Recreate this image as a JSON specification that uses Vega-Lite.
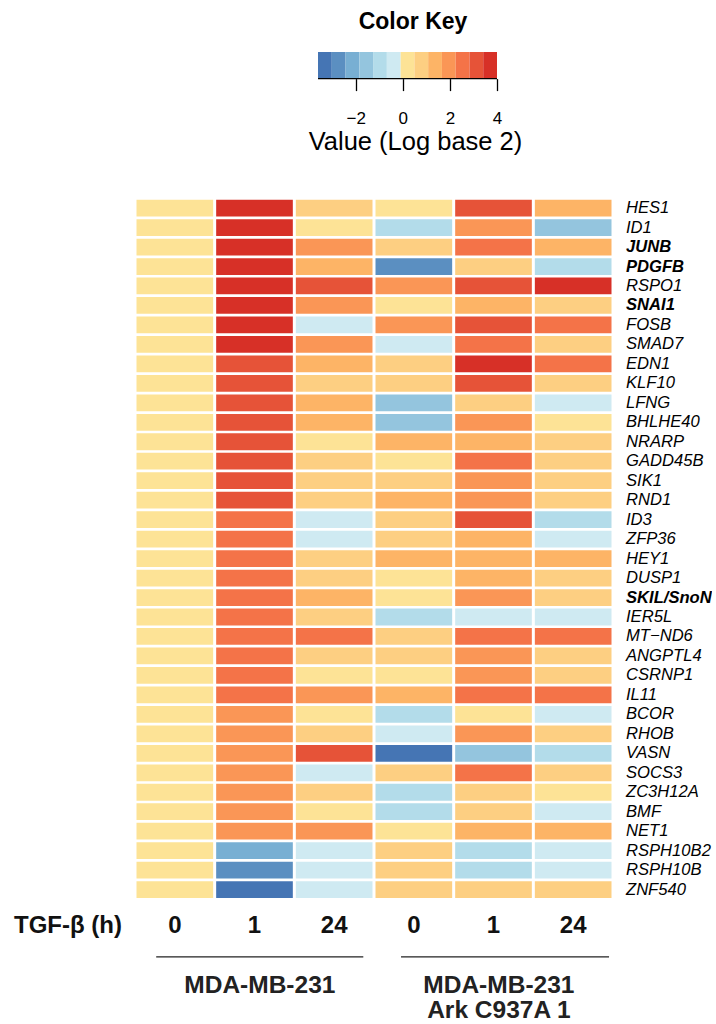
{
  "$schema": "https://vega.github.io/schema/vega-lite/v6.json",
  "background": "white",
  "padding": {"left": 13, "top": 11, "right": 0, "bottom": 0},
  "config": {"view": {"stroke": null}, "font": "Liberation Sans", "axis": {"labelColor": "black", "titleColor": "black", "grid": false}},
  "bounds": "flush",
  "spacing": 119.35,
  "datasets": {
    "key": [
      {"lo": -3.6, "hi": -3.015}, {"lo": -3.015, "hi": -2.431}, {"lo": -2.431, "hi": -1.846},
      {"lo": -1.846, "hi": -1.262}, {"lo": -1.262, "hi": -0.677}, {"lo": -0.677, "hi": -0.092},
      {"lo": -0.092, "hi": 0.492}, {"lo": 0.492, "hi": 1.077}, {"lo": 1.077, "hi": 1.662},
      {"lo": 1.662, "hi": 2.246}, {"lo": 2.246, "hi": 2.831}, {"lo": 2.831, "hi": 3.415},
      {"lo": 3.415, "hi": 4.0}
    ],
    "groups": [
      {"grp": "A", "first": "231_0", "mid": "231_1", "last": "231_24", "label": "MDA-MB-231"},
      {"grp": "B", "first": "Ark_0", "mid": "Ark_1", "last": "Ark_24", "label": "MDA-MB-231\nArk C937A 1"}
    ],
    "cells": [
      {"gene":"HES1","sample":"231_0","value":0},{"gene":"HES1","sample":"231_1","value":3.71},{"gene":"HES1","sample":"231_24","value":0.78},{"gene":"HES1","sample":"Ark_0","value":0.2},{"gene":"HES1","sample":"Ark_1","value":3.12},{"gene":"HES1","sample":"Ark_24","value":1.37},
      {"gene":"ID1","sample":"231_0","value":0},{"gene":"ID1","sample":"231_1","value":3.71},{"gene":"ID1","sample":"231_24","value":0.2},{"gene":"ID1","sample":"Ark_0","value":-0.97},{"gene":"ID1","sample":"Ark_1","value":1.95},{"gene":"ID1","sample":"Ark_24","value":-1.55},
      {"gene":"JUNB","sample":"231_0","value":0},{"gene":"JUNB","sample":"231_1","value":3.71},{"gene":"JUNB","sample":"231_24","value":1.95},{"gene":"JUNB","sample":"Ark_0","value":0.78},{"gene":"JUNB","sample":"Ark_1","value":2.54},{"gene":"JUNB","sample":"Ark_24","value":1.37},
      {"gene":"PDGFB","sample":"231_0","value":0},{"gene":"PDGFB","sample":"231_1","value":3.71},{"gene":"PDGFB","sample":"231_24","value":1.37},{"gene":"PDGFB","sample":"Ark_0","value":-2.72},{"gene":"PDGFB","sample":"Ark_1","value":0.78},{"gene":"PDGFB","sample":"Ark_24","value":-0.97},
      {"gene":"RSPO1","sample":"231_0","value":0},{"gene":"RSPO1","sample":"231_1","value":3.71},{"gene":"RSPO1","sample":"231_24","value":3.12},{"gene":"RSPO1","sample":"Ark_0","value":1.95},{"gene":"RSPO1","sample":"Ark_1","value":3.12},{"gene":"RSPO1","sample":"Ark_24","value":3.71},
      {"gene":"SNAI1","sample":"231_0","value":0},{"gene":"SNAI1","sample":"231_1","value":3.71},{"gene":"SNAI1","sample":"231_24","value":1.95},{"gene":"SNAI1","sample":"Ark_0","value":0.2},{"gene":"SNAI1","sample":"Ark_1","value":1.37},{"gene":"SNAI1","sample":"Ark_24","value":0.78},
      {"gene":"FOSB","sample":"231_0","value":0},{"gene":"FOSB","sample":"231_1","value":3.71},{"gene":"FOSB","sample":"231_24","value":-0.38},{"gene":"FOSB","sample":"Ark_0","value":1.95},{"gene":"FOSB","sample":"Ark_1","value":3.12},{"gene":"FOSB","sample":"Ark_24","value":2.54},
      {"gene":"SMAD7","sample":"231_0","value":0},{"gene":"SMAD7","sample":"231_1","value":3.71},{"gene":"SMAD7","sample":"231_24","value":1.95},{"gene":"SMAD7","sample":"Ark_0","value":-0.38},{"gene":"SMAD7","sample":"Ark_1","value":2.54},{"gene":"SMAD7","sample":"Ark_24","value":0.78},
      {"gene":"EDN1","sample":"231_0","value":0},{"gene":"EDN1","sample":"231_1","value":3.12},{"gene":"EDN1","sample":"231_24","value":1.37},{"gene":"EDN1","sample":"Ark_0","value":0.78},{"gene":"EDN1","sample":"Ark_1","value":3.71},{"gene":"EDN1","sample":"Ark_24","value":2.54},
      {"gene":"KLF10","sample":"231_0","value":0},{"gene":"KLF10","sample":"231_1","value":3.12},{"gene":"KLF10","sample":"231_24","value":0.78},{"gene":"KLF10","sample":"Ark_0","value":0.78},{"gene":"KLF10","sample":"Ark_1","value":3.12},{"gene":"KLF10","sample":"Ark_24","value":0.78},
      {"gene":"LFNG","sample":"231_0","value":0},{"gene":"LFNG","sample":"231_1","value":3.12},{"gene":"LFNG","sample":"231_24","value":1.37},{"gene":"LFNG","sample":"Ark_0","value":-1.55},{"gene":"LFNG","sample":"Ark_1","value":0.78},{"gene":"LFNG","sample":"Ark_24","value":-0.38},
      {"gene":"BHLHE40","sample":"231_0","value":0},{"gene":"BHLHE40","sample":"231_1","value":3.12},{"gene":"BHLHE40","sample":"231_24","value":1.37},{"gene":"BHLHE40","sample":"Ark_0","value":-1.55},{"gene":"BHLHE40","sample":"Ark_1","value":1.95},{"gene":"BHLHE40","sample":"Ark_24","value":0.2},
      {"gene":"NRARP","sample":"231_0","value":0},{"gene":"NRARP","sample":"231_1","value":3.12},{"gene":"NRARP","sample":"231_24","value":0.2},{"gene":"NRARP","sample":"Ark_0","value":1.37},{"gene":"NRARP","sample":"Ark_1","value":1.37},{"gene":"NRARP","sample":"Ark_24","value":0.78},
      {"gene":"GADD45B","sample":"231_0","value":0},{"gene":"GADD45B","sample":"231_1","value":3.12},{"gene":"GADD45B","sample":"231_24","value":0.78},{"gene":"GADD45B","sample":"Ark_0","value":0.2},{"gene":"GADD45B","sample":"Ark_1","value":2.54},{"gene":"GADD45B","sample":"Ark_24","value":0.78},
      {"gene":"SIK1","sample":"231_0","value":0},{"gene":"SIK1","sample":"231_1","value":3.12},{"gene":"SIK1","sample":"231_24","value":0.78},{"gene":"SIK1","sample":"Ark_0","value":0.78},{"gene":"SIK1","sample":"Ark_1","value":1.95},{"gene":"SIK1","sample":"Ark_24","value":0.78},
      {"gene":"RND1","sample":"231_0","value":0},{"gene":"RND1","sample":"231_1","value":3.12},{"gene":"RND1","sample":"231_24","value":0.78},{"gene":"RND1","sample":"Ark_0","value":1.37},{"gene":"RND1","sample":"Ark_1","value":1.95},{"gene":"RND1","sample":"Ark_24","value":0.78},
      {"gene":"ID3","sample":"231_0","value":0},{"gene":"ID3","sample":"231_1","value":2.54},{"gene":"ID3","sample":"231_24","value":-0.38},{"gene":"ID3","sample":"Ark_0","value":0.78},{"gene":"ID3","sample":"Ark_1","value":3.12},{"gene":"ID3","sample":"Ark_24","value":-0.97},
      {"gene":"ZFP36","sample":"231_0","value":0},{"gene":"ZFP36","sample":"231_1","value":2.54},{"gene":"ZFP36","sample":"231_24","value":-0.38},{"gene":"ZFP36","sample":"Ark_0","value":0.78},{"gene":"ZFP36","sample":"Ark_1","value":1.37},{"gene":"ZFP36","sample":"Ark_24","value":-0.38},
      {"gene":"HEY1","sample":"231_0","value":0},{"gene":"HEY1","sample":"231_1","value":2.54},{"gene":"HEY1","sample":"231_24","value":0.78},{"gene":"HEY1","sample":"Ark_0","value":1.37},{"gene":"HEY1","sample":"Ark_1","value":1.37},{"gene":"HEY1","sample":"Ark_24","value":1.37},
      {"gene":"DUSP1","sample":"231_0","value":0},{"gene":"DUSP1","sample":"231_1","value":2.54},{"gene":"DUSP1","sample":"231_24","value":0.78},{"gene":"DUSP1","sample":"Ark_0","value":0.2},{"gene":"DUSP1","sample":"Ark_1","value":1.37},{"gene":"DUSP1","sample":"Ark_24","value":0.78},
      {"gene":"SKIL/SnoN","sample":"231_0","value":0},{"gene":"SKIL/SnoN","sample":"231_1","value":2.54},{"gene":"SKIL/SnoN","sample":"231_24","value":1.37},{"gene":"SKIL/SnoN","sample":"Ark_0","value":0.2},{"gene":"SKIL/SnoN","sample":"Ark_1","value":1.95},{"gene":"SKIL/SnoN","sample":"Ark_24","value":0.78},
      {"gene":"IER5L","sample":"231_0","value":0},{"gene":"IER5L","sample":"231_1","value":2.54},{"gene":"IER5L","sample":"231_24","value":0.78},{"gene":"IER5L","sample":"Ark_0","value":-0.97},{"gene":"IER5L","sample":"Ark_1","value":-0.38},{"gene":"IER5L","sample":"Ark_24","value":-0.38},
      {"gene":"MT−ND6","sample":"231_0","value":0},{"gene":"MT−ND6","sample":"231_1","value":2.54},{"gene":"MT−ND6","sample":"231_24","value":2.54},{"gene":"MT−ND6","sample":"Ark_0","value":0.78},{"gene":"MT−ND6","sample":"Ark_1","value":2.54},{"gene":"MT−ND6","sample":"Ark_24","value":2.54},
      {"gene":"ANGPTL4","sample":"231_0","value":0},{"gene":"ANGPTL4","sample":"231_1","value":2.54},{"gene":"ANGPTL4","sample":"231_24","value":0.78},{"gene":"ANGPTL4","sample":"Ark_0","value":0.78},{"gene":"ANGPTL4","sample":"Ark_1","value":1.95},{"gene":"ANGPTL4","sample":"Ark_24","value":0.78},
      {"gene":"CSRNP1","sample":"231_0","value":0},{"gene":"CSRNP1","sample":"231_1","value":2.54},{"gene":"CSRNP1","sample":"231_24","value":0.2},{"gene":"CSRNP1","sample":"Ark_0","value":0.2},{"gene":"CSRNP1","sample":"Ark_1","value":1.95},{"gene":"CSRNP1","sample":"Ark_24","value":0.78},
      {"gene":"IL11","sample":"231_0","value":0},{"gene":"IL11","sample":"231_1","value":2.54},{"gene":"IL11","sample":"231_24","value":1.95},{"gene":"IL11","sample":"Ark_0","value":1.37},{"gene":"IL11","sample":"Ark_1","value":2.54},{"gene":"IL11","sample":"Ark_24","value":2.54},
      {"gene":"BCOR","sample":"231_0","value":0},{"gene":"BCOR","sample":"231_1","value":1.95},{"gene":"BCOR","sample":"231_24","value":0.2},{"gene":"BCOR","sample":"Ark_0","value":-0.97},{"gene":"BCOR","sample":"Ark_1","value":0.2},{"gene":"BCOR","sample":"Ark_24","value":-0.38},
      {"gene":"RHOB","sample":"231_0","value":0},{"gene":"RHOB","sample":"231_1","value":1.95},{"gene":"RHOB","sample":"231_24","value":0.78},{"gene":"RHOB","sample":"Ark_0","value":-0.38},{"gene":"RHOB","sample":"Ark_1","value":1.95},{"gene":"RHOB","sample":"Ark_24","value":0.78},
      {"gene":"VASN","sample":"231_0","value":0},{"gene":"VASN","sample":"231_1","value":1.95},{"gene":"VASN","sample":"231_24","value":3.12},{"gene":"VASN","sample":"Ark_0","value":-3.31},{"gene":"VASN","sample":"Ark_1","value":-1.55},{"gene":"VASN","sample":"Ark_24","value":-0.97},
      {"gene":"SOCS3","sample":"231_0","value":0},{"gene":"SOCS3","sample":"231_1","value":1.95},{"gene":"SOCS3","sample":"231_24","value":-0.38},{"gene":"SOCS3","sample":"Ark_0","value":0.78},{"gene":"SOCS3","sample":"Ark_1","value":2.54},{"gene":"SOCS3","sample":"Ark_24","value":0.78},
      {"gene":"ZC3H12A","sample":"231_0","value":0},{"gene":"ZC3H12A","sample":"231_1","value":1.95},{"gene":"ZC3H12A","sample":"231_24","value":0.78},{"gene":"ZC3H12A","sample":"Ark_0","value":-0.97},{"gene":"ZC3H12A","sample":"Ark_1","value":0.78},{"gene":"ZC3H12A","sample":"Ark_24","value":0.2},
      {"gene":"BMF","sample":"231_0","value":0},{"gene":"BMF","sample":"231_1","value":1.95},{"gene":"BMF","sample":"231_24","value":0.2},{"gene":"BMF","sample":"Ark_0","value":-0.97},{"gene":"BMF","sample":"Ark_1","value":0.78},{"gene":"BMF","sample":"Ark_24","value":-0.38},
      {"gene":"NET1","sample":"231_0","value":0},{"gene":"NET1","sample":"231_1","value":1.95},{"gene":"NET1","sample":"231_24","value":1.95},{"gene":"NET1","sample":"Ark_0","value":0.2},{"gene":"NET1","sample":"Ark_1","value":1.37},{"gene":"NET1","sample":"Ark_24","value":1.37},
      {"gene":"RSPH10B2","sample":"231_0","value":0},{"gene":"RSPH10B2","sample":"231_1","value":-2.14},{"gene":"RSPH10B2","sample":"231_24","value":-0.38},{"gene":"RSPH10B2","sample":"Ark_0","value":0.78},{"gene":"RSPH10B2","sample":"Ark_1","value":-0.97},{"gene":"RSPH10B2","sample":"Ark_24","value":-0.38},
      {"gene":"RSPH10B","sample":"231_0","value":0},{"gene":"RSPH10B","sample":"231_1","value":-2.72},{"gene":"RSPH10B","sample":"231_24","value":-0.38},{"gene":"RSPH10B","sample":"Ark_0","value":0.78},{"gene":"RSPH10B","sample":"Ark_1","value":-0.97},{"gene":"RSPH10B","sample":"Ark_24","value":-0.38},
      {"gene":"ZNF540","sample":"231_0","value":0},{"gene":"ZNF540","sample":"231_1","value":-3.31},{"gene":"ZNF540","sample":"231_24","value":-0.38},{"gene":"ZNF540","sample":"Ark_0","value":0.78},{"gene":"ZNF540","sample":"Ark_1","value":0.78},{"gene":"ZNF540","sample":"Ark_24","value":0.78}
    ]
  },
  "vconcat": [
    {
      "width": 478,
      "height": 26.6,
      "title": {"text": "Color Key", "fontSize": 23, "fontWeight": "bold", "anchor": "middle", "dx": 39, "baseline": "alphabetic", "offset": 0, "color": "black"},
      "data": {"name": "key"},
      "layer": [
        {
          "mark": {"type": "rect"},
          "encoding": {
            "x": {
              "field": "lo", "type": "quantitative", "title": "Value (Log base 2)",
              "scale": {"domain": [-11.372, 8.926], "nice": false, "zero": false},
              "axis": {"values": [-2, 0, 2, 4], "domain": false, "tickSize": 12, "tickWidth": 1.3, "tickColor": "black", "labelFontSize": 17, "labelPadding": 20, "labelFlush": false, "title": "Value (Log base 2)", "titleFontSize": 25.5, "titleFontWeight": "normal", "titleX": 280, "titleY": 71, "titleAlign": "center", "titleBaseline": "alphabetic"}
            },
            "x2": {"field": "hi"},
            "color": {
              "field": "lo", "type": "quantitative", "legend": null,
              "scale": {"type": "threshold", "domain": [-3.015, -2.431, -1.846, -1.262, -0.677, -0.092, 0.492, 1.077, 1.662, 2.246, 2.831, 3.415],
                "range": ["#4575b4", "#5b8fc1", "#78afd3", "#94c5de", "#b3dcea", "#cfeaf2", "#fde396", "#fdcf82", "#fdb466", "#fa9656", "#f47348", "#e65338", "#d73027"]}
            }
          }
        },
        {
          "mark": {"type": "rule", "color": "black", "strokeWidth": 1.3},
          "encoding": {
            "x": {"aggregate": "min", "field": "lo", "type": "quantitative", "title": "Value (Log base 2)"},
            "x2": {"aggregate": "max", "field": "hi"},
            "y": {"datum": 0, "type": "quantitative", "scale": {"domain": [0, 1]}, "axis": null}
          }
        }
      ]
    },
    {
      "width": 478,
      "height": 701,
      "layer": [
        {
          "data": {"name": "cells"},
          "mark": {"type": "rect"},
          "encoding": {
            "x": {
              "field": "sample", "type": "nominal", "title": "TGF-β (h)",
              "scale": {"domain": ["231_0", "231_1", "231_24", "Ark_0", "Ark_1", "Ark_24"], "paddingInner": 0.0377, "paddingOuter": 0.0188},
              "axis": {"orient": "bottom", "labelExpr": "split(datum.value, '_')[1]", "labelAngle": 0, "ticks": false, "tickSize": 0, "domain": false, "labelFontSize": 24, "labelFontWeight": "bold", "labelColor": "#111", "labelBaseline": "alphabetic", "labelPadding": 33, "title": "TGF-β (h)", "titleFontSize": 24, "titleFontWeight": "bold", "titleX": -67.5, "titleY": 33, "titleAlign": "center", "titleBaseline": "alphabetic", "titleColor": "#111"}
            },
            "y": {
              "field": "gene", "type": "nominal",
              "scale": {"domain": ["HES1","ID1","JUNB","PDGFB","RSPO1","SNAI1","FOSB","SMAD7","EDN1","KLF10","LFNG","BHLHE40","NRARP","GADD45B","SIK1","RND1","ID3","ZFP36","HEY1","DUSP1","SKIL/SnoN","IER5L","MT−ND6","ANGPTL4","CSRNP1","IL11","BCOR","RHOB","VASN","SOCS3","ZC3H12A","BMF","NET1","RSPH10B2","RSPH10B","ZNF540"], "paddingInner": 0.139, "paddingOuter": 0.07},
              "axis": {"orient": "right", "ticks": false, "domain": false, "labelFontSize": 16.6, "labelFontStyle": "italic", "labelFontWeight": {"condition": {"test": "indexof(['JUNB','PDGFB','SNAI1','SKIL/SnoN'], datum.value) >= 0", "value": "bold"}, "value": "normal"}, "labelPadding": 12.5, "title": null}
            },
            "color": {
              "field": "value", "type": "quantitative", "legend": null,
              "scale": {"type": "threshold", "domain": [-3.015, -2.431, -1.846, -1.262, -0.677, -0.092, 0.492, 1.077, 1.662, 2.246, 2.831, 3.415],
                "range": ["#4575b4", "#5b8fc1", "#78afd3", "#94c5de", "#b3dcea", "#cfeaf2", "#fde396", "#fdcf82", "#fdb466", "#fa9656", "#f47348", "#e65338", "#d73027"]}
            }
          }
        },
        {
          "data": {"name": "groups"},
          "transform": [{"filter": "datum.grp == 'A'"}],
          "mark": {"type": "rule", "color": "#222", "strokeWidth": 1.4},
          "encoding": {
            "x": {"field": "first", "type": "nominal", "bandPosition": 0.257, "title": "TGF-β (h)", "scale": {"domain": ["231_0", "231_1", "231_24", "Ark_0", "Ark_1", "Ark_24"]}},
            "x2": {"field": "last", "bandPosition": 0.88},
            "y": {"datum": 1.082, "type": "quantitative", "scale": {"domain": [0, 1], "reverse": true, "nice": false, "zero": false}, "axis": null}
          }
        },
        {
          "data": {"name": "groups"},
          "transform": [{"filter": "datum.grp == 'B'"}],
          "mark": {"type": "rule", "color": "#222", "strokeWidth": 1.4},
          "encoding": {
            "x": {"field": "first", "type": "nominal", "bandPosition": 0.333, "title": "TGF-β (h)", "scale": {"domain": ["231_0", "231_1", "231_24", "Ark_0", "Ark_1", "Ark_24"]}},
            "x2": {"field": "last", "bandPosition": 0.968},
            "y": {"datum": 1.082, "type": "quantitative", "scale": {"domain": [0, 1], "reverse": true, "nice": false, "zero": false}, "axis": null}
          }
        },
        {
          "data": {"name": "groups"},
          "mark": {"type": "text", "lineBreak": "\n", "fontSize": 24.5, "fontWeight": "bold", "baseline": "alphabetic", "align": "center", "lineHeight": 25, "color": "#222"},
          "encoding": {
            "x": {"field": "mid", "type": "nominal", "bandPosition": 0.57, "title": "TGF-β (h)", "scale": {"domain": ["231_0", "231_1", "231_24", "Ark_0", "Ark_1", "Ark_24"]}},
            "y": {"datum": 1.133, "type": "quantitative", "scale": {"domain": [0, 1], "reverse": true, "nice": false, "zero": false}, "axis": null},
            "text": {"field": "label"}
          }
        }
      ],
      "resolve": {"scale": {"y": "independent"}, "axis": {"y": "independent"}}
    }
  ]
}
